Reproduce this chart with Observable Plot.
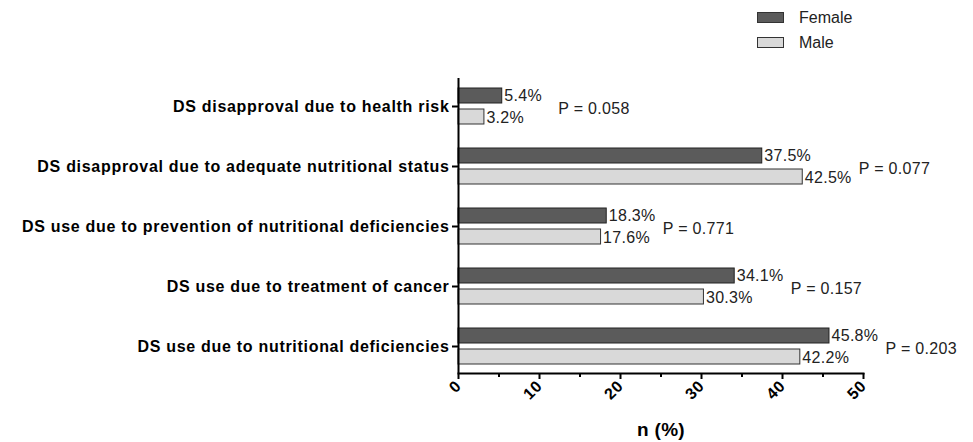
<!DOCTYPE html>
<html>
<head>
<meta charset="utf-8">
<script src="https://cdn.jsdelivr.net/npm/d3@7"></script>
<script src="https://cdn.jsdelivr.net/npm/@observablehq/plot@0.6"></script>
<style>
  html, body { margin: 0; padding: 0; background: #fff; }
  #wrap { position: relative; width: 973px; height: 442px; font-family: "Liberation Sans", Arial, sans-serif; }
  #legend { position: absolute; left: 757px; top: 5px; font-size: 16px; color: #222; }
  .item { display: flex; align-items: center; height: 25px; }
  .sw { width: 25px; height: 9px; margin-right: 15px; border: 1px solid #333; }
  g[aria-label="y-axis tick label"] text { letter-spacing: 0.7px; }
  g[aria-label="x-axis tick label"] text { letter-spacing: 0.5px; }
  g[aria-label="text"] text { letter-spacing: 0.3px; }
</style>
</head>
<body>
<div id="wrap">
  <div id="chart"></div>
  <div id="legend">
    <div class="item"><span class="sw" style="background:#5b5b5b"></span>Female</div>
    <div class="item"><span class="sw" style="background:#d9d9d9"></span>Male</div>
  </div>
</div>
<script>
const categories = [
  "DS disapproval due to health risk",
  "DS disapproval due to adequate nutritional status",
  "DS use due to prevention of nutritional deficiencies",
  "DS use due to treatment of cancer",
  "DS use due to nutritional deficiencies"
];
const female = [5.4, 37.5, 18.3, 34.1, 45.8];
const male = [3.2, 42.5, 17.6, 30.3, 42.2];
const pLabels = ["P = 0.058", "P = 0.077", "P = 0.771", "P = 0.157", "P = 0.203"];
const majorTicks = [0, 10, 20, 30, 40, 50];
const minorTicks = [5, 15, 25, 35, 45];

const rows = categories.map((c, i) => ({cat: c, female: female[i], male: male[i], p: pLabels[i]}));

const chart = Plot.plot({
  width: 973,
  height: 442,
  marginLeft: 458,
  marginRight: 110,
  marginTop: 78,
  marginBottom: 69,
  style: {fontFamily: "'Liberation Sans', Arial, sans-serif", color: "#000", background: "transparent"},
  x: {domain: [0, 50], label: null},
  y: {domain: categories, paddingInner: 0.34, paddingOuter: 0.116, label: null},
  marks: [
    Plot.barX(rows, {x: "female", y: "cat", insetTop: 2, insetBottom: 23, fill: "#5b5b5b", stroke: "#222", strokeWidth: 1}),
    Plot.barX(rows, {x: "male", y: "cat", insetTop: 23, insetBottom: 2, fill: "#d9d9d9", stroke: "#333", strokeWidth: 1}),
    Plot.text(rows, {x: "female", y: "cat", text: d => d.female.toFixed(1) + "%", dx: 2, dy: -10.5, textAnchor: "start", fontSize: 16, fill: "#222"}),
    Plot.text(rows, {x: "male", y: "cat", text: d => d.male.toFixed(1) + "%", dx: 2, dy: 11, textAnchor: "start", fontSize: 16, fill: "#222"}),
    Plot.text(rows, {x: d => Math.max(d.female, d.male), y: "cat", text: "p", dx: 56, dy: 2, textAnchor: "start", fontSize: 16, fill: "#222"}),
    Plot.ruleX([0], {strokeWidth: 2, stroke: "#000"}),
    Plot.frame({anchor: "bottom", strokeWidth: 2, stroke: "#000"}),
    Plot.axisY({tickSize: 6, tickPadding: 3, fontWeight: "bold", fontSize: 16, strokeWidth: 2, label: null}),
    Plot.axisX({ticks: majorTicks, tickSize: 6, tickPadding: 4, tickRotate: -45, fontWeight: "bold", fontSize: 16, strokeWidth: 2, label: null}),
    Plot.axisX({ticks: minorTicks, tickSize: 4, text: null, strokeWidth: 2, label: null}),
    Plot.text(["n (%)"], {frameAnchor: "bottom", dy: 56, text: d => d, fontWeight: "bold", fontSize: 19, lineAnchor: "middle"})
  ]
});
document.getElementById("chart").appendChild(chart);
</script>
</body>
</html>
